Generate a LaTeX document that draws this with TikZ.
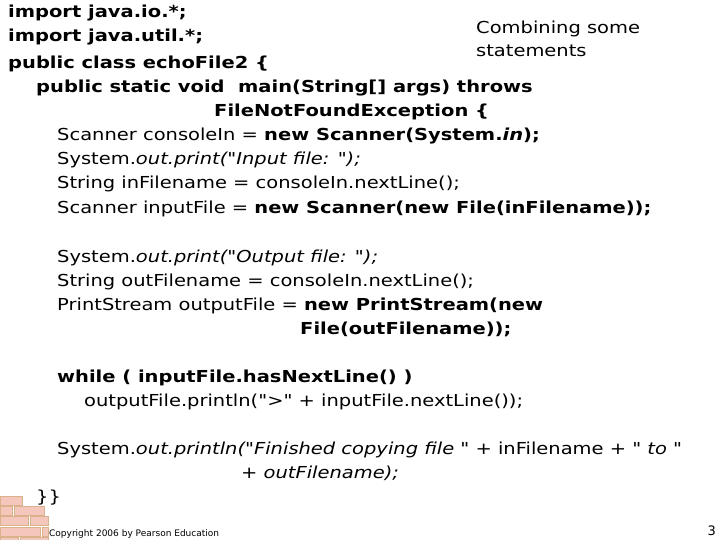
\documentclass[tikz,border=0pt]{standalone}
\usepackage{fontspec}
\setmainfont{DejaVu Sans}
\newfontfamily\codefont[FakeStretch=1.18]{DejaVu Sans}
\begin{document}
\begin{tikzpicture}[x=1pt,y=-1pt,
  code/.style={anchor=base west,inner sep=0pt,font=\codefont\fontsize{16.5}{20}\selectfont},
  brick/.style={fill=brown!50!red!30,draw=brown!60!white,line width=0.6pt}]
\useasboundingbox (0,0) rectangle (720,540);
\fill[white] (0,0) rectangle (720,540);
% bricks
\foreach \x/\y/\w in {0/496/22, 0/506/12,14/506/30, 0/516/28,30/516/18, 0/527/40,42/527/6, 0/537/18,20/537/28}
  \draw[brick] (\x,\y) rectangle ++(\w,9);
\node[code] (l1) at (8,18) {\bfseries import java.io.*;};
\node[code] (l2) at (8,42) {\bfseries import java.util.*;};
\node[code] (c1) at (476,34) {Combining some};
\node[code] (c2) at (476,57) {statements};
\node[code] (l3) at (8,69) {\bfseries public class echoFile2 \{};
\node[code] (l4) at (36,93) {\bfseries public static void};
\node[code] (l4b) at (238,93) {\bfseries main(String[] args) throws};
\node[code] (l5) at (214,117) {\bfseries FileNotFoundException \{};
\node[code] (l6) at (57,141) {Scanner consoleIn = \textbf{new Scanner(System.\textit{in});}};
\node[code] (l7) at (57,165) {System.\textit{out.print("Input file: ");}};
\node[code] (l8) at (57,189) {String inFilename = consoleIn.nextLine();};
\node[code] (l9) at (57,214) {Scanner inputFile = \textbf{new Scanner(new File(inFilename));}};
\node[code] (l10) at (57,262) {System.\textit{out.print("Output file: ");}};
\node[code] (l11) at (57,286) {String outFilename = consoleIn.nextLine();};
\node[code] (l12) at (57,310) {PrintStream outputFile = \textbf{new PrintStream(new}};
\node[code] (l13) at (300,334) {\bfseries File(outFilename));};
\node[code] (l14) at (57,382) {\bfseries while ( inputFile.hasNextLine() )};
\node[code] (l15) at (84,406) {outputFile.println(">" + inputFile.nextLine());};
\node[code] (l16) at (57,454) {System.\textit{out.println("Finished copying file "} + inFilename + \textit{" to "}};
\node[code] (l17) at (241,478) {\textit{+ outFilename);}};
\node[code] (l18) at (36,502) {\}\}};
\node[anchor=base west,inner sep=0pt,font=\fontsize{9}{11}\selectfont] (cp) at (49,536) {Copyright 2006 by Pearson Education};
\node[anchor=base east,inner sep=0pt,font=\fontsize{13}{15}\selectfont] (pg) at (716,535) {3};
\end{tikzpicture}
\end{document}
